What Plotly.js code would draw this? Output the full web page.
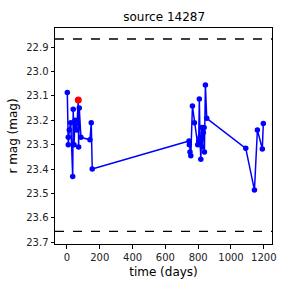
<!DOCTYPE html>
<html><head><meta charset="utf-8">
<script src="https://cdn.plot.ly/plotly-3.0.1.min.js"></script>
<style>html,body{margin:0;padding:0;background:#fff}#c{width:288px;height:288px}</style>
</head><body><div id="c"></div>
<script>
const times = [2, 8, 8, 14, 23, 35, 38, 43, 49, 59, 69, 71, 75, 85, 140, 148, 154,
  744, 746, 750, 755, 765, 777, 797, 803, 807, 811, 816, 822, 825, 831, 836, 838, 844, 852,
  1090, 1143, 1161, 1191, 1197];
const mags = [23.086, 23.27, 23.30, 23.24, 23.21, 23.43, 23.155, 23.30, 23.20, 23.24, 23.117, 23.31, 23.15, 23.27, 23.28, 23.21, 23.40,
  23.285, 23.30, 23.33, 23.345, 23.142, 23.21, 23.30, 23.285, 23.113, 23.27, 23.36, 23.23, 23.31, 23.25, 23.23, 23.33, 23.056, 23.192,
  23.315, 23.486, 23.24, 23.318, 23.213];
const peakTime = [69];
const peakMag = [23.117];
const limits = [22.867, 23.655];
const xRange = [-73, 1250];
const yRange = [23.707, 22.822];

const traces = [
  {x: times, y: mags, mode: 'lines+markers', type: 'scatter',
   line: {color: '#0000ff', width: 1.5}, marker: {color: '#0000ff', size: 5.5}},
  {x: peakTime, y: peakMag, mode: 'markers', type: 'scatter',
   marker: {color: '#ff0000', size: 7}}
];
const shapes = limits.map(v => ({type: 'line', xref: 'paper', x0: 0, x1: 1, yref: 'y', y0: v, y1: v,
  line: {color: '#000', width: 1.3, dash: 'dash'}}));
const axisCommon = {showgrid: false, zeroline: false, showline: true, linecolor: '#000', linewidth: 1,
  mirror: true, ticks: 'outside', ticklen: 3.5, tickwidth: 1, tickcolor: '#000',
  tickfont: {family: 'DejaVu Sans', size: 10, color: '#222'}};
Plotly.newPlot('c', traces, {
  width: 288, height: 288, showlegend: false,
  margin: {l: 55, r: 16, t: 28, b: 44},
  paper_bgcolor: '#fff', plot_bgcolor: '#fff',
  title: {text: 'source 14287', font: {family: 'DejaVu Sans', size: 12, color: '#000'}, x: 0.57, xanchor: 'center', y: 0.941, yanchor: 'middle'},
  xaxis: Object.assign({}, axisCommon, {range: xRange, tickvals: [0, 200, 400, 600, 800, 1000, 1200],
    title: {text: 'time (days)', font: {family: 'DejaVu Sans', size: 12, color: '#000'}, standoff: 6}}),
  yaxis: Object.assign({}, axisCommon, {range: yRange, tickvals: [22.9, 23.0, 23.1, 23.2, 23.3, 23.4, 23.5, 23.6, 23.7], tickformat: '.1f',
    title: {text: 'r mag (mag)', font: {family: 'DejaVu Sans', size: 12, color: '#000'}, standoff: 6}}),
  shapes: shapes
}, {staticPlot: true, displayModeBar: false});
</script></body></html>
